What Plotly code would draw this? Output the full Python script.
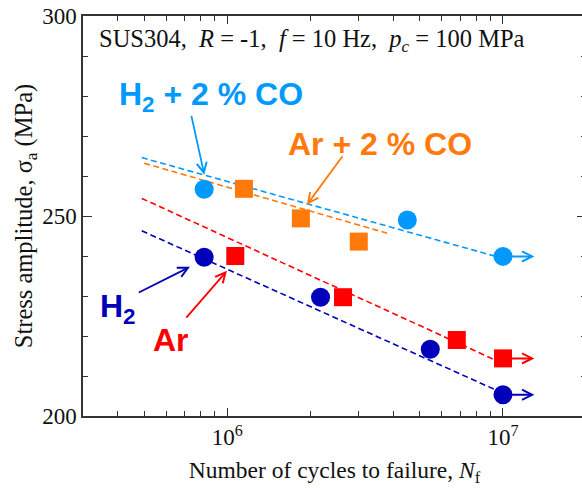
import numpy as np
import plotly.graph_objects as go

# ---- data ----
h2co_x = [8.25e5, 4.5e6, 1.0e7]
h2co_y = [256.7, 249.0, 239.9]
arco_x = [1.15e6, 1.85e6, 3.0e6]
arco_y = [256.8, 249.4, 243.6]
h2_x = [8.25e5, 2.18e6, 5.45e6, 1.0e7]
h2_y = [239.7, 229.7, 216.7, 205.3]
ar_x = [1.07e6, 2.63e6, 6.8e6, 1.0e7]
ar_y = [240.0, 229.7, 219.0, 214.4]

# dashed trend lines (end points)
fit_h2co_x = [4.9e5, 1.0e7]
fit_h2co_y = [264.6, 239.4]
fit_arco_x = [5.0e5, 3.8e6]
fit_arco_y = [263.2, 245.7]
fit_h2_x = [4.9e5, 1.0e7]
fit_h2_y = [246.3, 205.7]
fit_ar_x = [4.9e5, 1.0e7]
fit_ar_y = [254.4, 213.1]

# run-out arrows end
runout_end_x = 1.3e7

x_range = [3e5, 2e7]
x_tickvals = [1e6, 1e7]
x_ticktext = ["10<sup>6</sup>", "10<sup>7</sup>"]
x_minor = [4e5, 5e5, 6e5, 7e5, 8e5, 9e5, 2e6, 3e6, 4e6, 5e6, 6e6, 7e6, 8e6, 9e6]
y_range = [200, 300]
y_tickvals = [200, 250, 300]

C_LB = "#0099FF"
C_OR = "#FF7A0A"
C_DB = "#0000BB"
C_RD = "#FF0000"

fig = go.Figure()

def add_fit(x, y, c):
    fig.add_trace(go.Scatter(x=x, y=y, mode="lines",
                             line=dict(color=c, width=1.6, dash="6px,3.5px"),
                             showlegend=False, hoverinfo="skip"))

add_fit(fit_h2co_x, fit_h2co_y, C_LB)
add_fit(fit_arco_x, fit_arco_y, C_OR)
add_fit(fit_ar_x, fit_ar_y, C_RD)
add_fit(fit_h2_x, fit_h2_y, C_DB)

def add_pts(x, y, c, sym, size):
    fig.add_trace(go.Scatter(x=x, y=y, mode="markers",
                             marker=dict(color=c, symbol=sym, size=size,
                                         line=dict(width=0)),
                             showlegend=False))

add_pts(h2co_x, h2co_y, C_LB, "circle", 19)
add_pts(arco_x, arco_y, C_OR, "square", 18)
add_pts(ar_x, ar_y, C_RD, "square", 18)
add_pts(h2_x, h2_y, C_DB, "circle", 19)

lg = np.log10
anns = []

# run-out arrows
for xs, ys, c in [(h2co_x, h2co_y, C_LB), (ar_x, ar_y, C_RD), (h2_x, h2_y, C_DB)]:
    anns.append(dict(x=lg(runout_end_x), y=ys[-1], ax=lg(xs[-1]), ay=ys[-1],
                     xref="x", yref="y", axref="x", ayref="y", text="",
                     showarrow=True, arrowhead=5, arrowsize=1, arrowwidth=2,
                     arrowcolor=c, standoff=0, startstandoff=0))

# label arrows (tip, tail)
label_arrows = [
    ((5.917, 260.3), (5.869, 275.4), C_LB),
    ((6.289, 252.8), (6.422, 265.3), C_OR),
    ((5.865, 237.3), (5.674, 230.7), C_DB),
    ((5.999, 236.3), (5.847, 224.2), C_RD),
]
for (tx, ty), (sx, sy), c in label_arrows:
    anns.append(dict(x=tx, y=ty, ax=sx, ay=sy, xref="x", yref="y",
                     axref="x", ayref="y", text="", showarrow=True,
                     arrowhead=5, arrowsize=1.1, arrowwidth=1.8, arrowcolor=c,
                     standoff=0))

labfont = "Liberation Sans, Arial, sans-serif"
labels = [
    ("H<sub>2</sub> + 2 % CO", 5.940, 279.8, C_LB),
    ("Ar + 2 % CO", 6.555, 267.9, C_OR),
    ("H<sub>2</sub>", 5.604, 227.0, C_DB),
    ("Ar", 5.795, 219.1, C_RD),
]
for t, x, y, c in labels:
    anns.append(dict(x=x, y=y, xref="x", yref="y", text="<b>" + t + "</b>",
                     showarrow=False, xanchor="center", yanchor="middle",
                     font=dict(family=labfont, size=32, color=c)))

serif = "Liberation Serif, Times New Roman, serif"
# figure slightly wider than the 582 px window: the right frame edge falls just outside
W, H = 586, 488
L, T, R, B = 83, 16, 0, 72
pw, ph = W - L - R, H - T - B
anns.append(dict(x=(97 - L) / pw, y=1 - (40 - T) / ph,
                 xref="paper", yref="paper",
                 text="SUS304,\u00a0\u00a0<i>R</i> = -1,\u00a0\u00a0<i>f</i> = 10 Hz,\u00a0\u00a0<i>p<sub>c</sub></i> = 100 MPa",
                 showarrow=False, xanchor="left", yanchor="middle",
                 font=dict(family=serif, size=24.5, color="#111")))

fig.update_layout(
    width=W, height=H,
    margin=dict(l=L, r=R, t=T, b=B, pad=0, autoexpand=False),
    paper_bgcolor="white", plot_bgcolor="white",
    annotations=anns,
    font=dict(family=serif, size=23, color="#111"),
    xaxis=dict(type="log", range=[lg(x_range[0]), lg(x_range[1])], automargin=False,
               tickvals=x_tickvals, ticktext=x_ticktext,
               ticks="inside", ticklen=8, tickwidth=1.2, tickcolor="#333",
               minor=dict(tickvals=x_minor, ticks="inside", ticklen=5,
                          tickwidth=1, tickcolor="#333", showgrid=False),
               showline=True, linecolor="#333", linewidth=1.5, mirror="allticks",
               showgrid=False, zeroline=False,
               tickfont=dict(family=serif, size=23, color="#111"),
               title=dict(text="Number of cycles to failure, <i>N</i><sub>f</sub>",
                          font=dict(family=serif, size=23.5, color="#111"),
                          standoff=12)),
    yaxis=dict(range=y_range, tickvals=y_tickvals, automargin=False,
               ticks="inside", ticklen=9, tickwidth=1.2, tickcolor="#333",
               minor=dict(dtick=10, ticks="inside", ticklen=5, tickwidth=1,
                          tickcolor="#333", showgrid=False),
               showline=True, linecolor="#333", linewidth=1.5, mirror="allticks",
               showgrid=False, zeroline=False,
               tickfont=dict(family=serif, size=23, color="#111"),
               title=dict(text="Stress amplitude, σ<sub>a</sub> (MPa)",
                          font=dict(family=serif, size=24.5, color="#111"),
                          standoff=3)),
)

# remove the default 8 px page margin so the figure fills the window
fig.write_html("out.html", config={"displayModeBar": False},
               post_script="document.body.style.margin='0';document.body.style.overflow='hidden';")
